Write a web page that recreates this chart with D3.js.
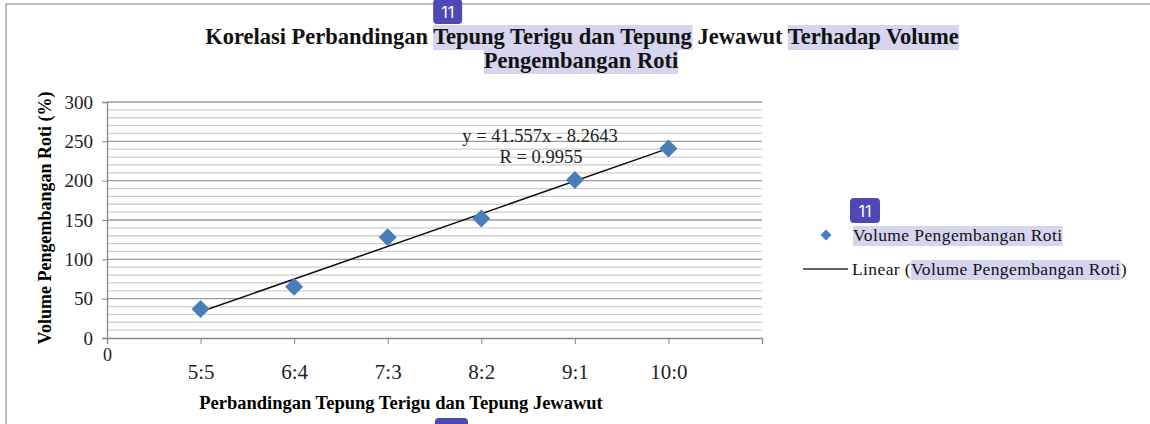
<!DOCTYPE html>
<html>
<head>
<meta charset="utf-8">
<script src="https://cdn.jsdelivr.net/npm/d3@7"></script>
<style>
  body { margin: 0; background: #fff; }
  svg { display: block; font-family: "Liberation Serif", "Times New Roman", serif; }
</style>
</head>
<body>
<div id="plot"><svg width="1150" height="424"></svg></div>
<script>
// data
const ratios = ["5:5", "6:4", "7:3", "8:2", "9:1", "10:0"];
const volume = [37, 65, 128, 152, 201, 241];
const trendSlope = 41.557;
const trendIntercept = -8.2643;
const yTicks = [0, 50, 100, 150, 200, 250, 300];

const width = 1150, height = 424;
const margin = { top: 102, right: 388, bottom: 86, left: 107 };
const hl = "#d6d4ef", badge = "#4c49b4", blue = "#4a7ebb";

const svg = d3.select("div#plot svg");
const x = d3.scaleLinear().domain([0, ratios.length + 1]).range([margin.left, width - margin.right]);
const y = d3.scaleLinear().domain([0, 300]).range([height - margin.bottom, margin.top]);

// page frame + cut text from the page above
svg.append("path").attr("d", "M6,424V4H1150").attr("fill", "none").attr("stroke", "#a8a8a8").attr("stroke-width", 1.5);
svg.append("text").attr("x", 320).attr("y", -4).attr("text-anchor", "end")
  .attr("font-size", 19).attr("fill", "#777").text("Grafik Pengembangan Pengembangan (%)");

// gridlines
const minor = d3.range(0, 301, 10).filter(v => v % 50 !== 0);
svg.append("g").selectAll("line").data(minor).join("line")
  .attr("x1", x(0)).attr("x2", x(7)).attr("y1", d => y(d)).attr("y2", d => y(d))
  .attr("stroke", "#cfcfcf").attr("stroke-width", 1.3);
svg.append("g").selectAll("line").data(yTicks.slice(1)).join("line")
  .attr("x1", x(0)).attr("x2", x(7)).attr("y1", d => y(d)).attr("y2", d => y(d))
  .attr("stroke", "#9a9a9a").attr("stroke-width", 1.3);

// y axis
const yAxis = svg.append("g").attr("transform", `translate(${x(0)},0)`)
  .call(d3.axisLeft(y).tickValues(yTicks).tickSize(5).tickPadding(9));
yAxis.select(".domain").attr("stroke", "#888").attr("stroke-width", 1.3);
yAxis.selectAll(".tick line").attr("stroke", "#888");
yAxis.selectAll(".tick text").attr("font-family", "Liberation Serif").attr("font-size", 19).attr("fill", "#222");

// x axis
const xAxis = svg.append("g").attr("transform", `translate(0,${y(0)})`)
  .call(d3.axisBottom(x).tickValues(d3.range(0, 8)).tickSize(6).tickPadding(20)
    .tickFormat(d => d === 0 ? "0" : (ratios[d - 1] || "")));
xAxis.select(".domain").attr("stroke", "#888").attr("stroke-width", 1.3);
xAxis.selectAll(".tick line").attr("stroke", "#888");
xAxis.selectAll(".tick text").attr("font-family", "Liberation Serif").attr("font-size", 21).attr("fill", "#222");
xAxis.selectAll(".tick").filter(d => d === 0).select("text").attr("y", 10).attr("font-size", 18);

// trendline
const tx = [1, ratios.length];
svg.append("line")
  .attr("x1", x(tx[0])).attr("y1", y(trendSlope * tx[0] + trendIntercept))
  .attr("x2", x(tx[1])).attr("y2", y(trendSlope * tx[1] + trendIntercept))
  .attr("stroke", "#111").attr("stroke-width", 1.5);

// points
svg.append("g").selectAll("path").data(volume).join("path")
  .attr("transform", (d, i) => `translate(${x(i + 1)},${y(d)})`)
  .attr("d", "M0,-9L9,0L0,9L-9,0Z").attr("fill", blue);

// equation
svg.append("text").attr("x", 540).attr("y", 142).attr("text-anchor", "middle").attr("font-size", 18.5)
  .attr("fill", "#222").text(`y = ${trendSlope}x - ${Math.abs(trendIntercept)}`);
svg.append("text").attr("x", 541).attr("y", 163).attr("text-anchor", "middle").attr("font-size", 18.5)
  .attr("fill", "#222").text("R = 0.9955");

// helper: text made of pieces, some highlighted
function hlText(g, xPos, yPos, parts, size, anchor, weight, spacing) {
  const bgs = g.append("g");
  const t = g.append("text").attr("x", xPos).attr("y", yPos).attr("font-size", size)
    .attr("text-anchor", anchor).attr("font-weight", weight).attr("fill", "#111")
    .attr("letter-spacing", spacing || 0);
  const spans = parts.map(p => ({ p, el: t.append("tspan").text(p[0]).node() }));
  const boxes = [];
  spans.forEach(s => {
    if (s.p[1]) {
      const b = s.el.getBBox();
      bgs.append("rect").attr("x", b.x).attr("y", b.y + 1).attr("width", b.width).attr("height", b.height)
        .attr("fill", hl);
      boxes.push({ x: b.x, y: b.y + 1 });
    }
  });
  return boxes;
}
function drawBadge(bx, by, w) {
  svg.append("rect").attr("x", bx).attr("y", by).attr("width", w).attr("height", 25).attr("rx", 4).attr("fill", badge);
  svg.append("text").attr("x", bx + w / 2).attr("y", by + 19).attr("text-anchor", "middle")
    .attr("font-family", "Inter, 'DejaVu Sans', sans-serif").attr("font-size", 16).attr("fill", "#fff").text("11");
}

// title
const titleG = svg.append("g");
const tb = hlText(titleG, 582, 44, [
  ["Korelasi Perbandingan ", false],
  ["Tepung Terigu dan Tepung", true],
  [" Jewawut ", false],
  ["Terhadap Volume", true]
], 22.5, "middle", "bold");
hlText(titleG, 581, 68, [["Pengembangan Roti", true]], 22.5, "middle", "bold");
drawBadge(tb[0].x, -1, 29);

// axis titles
svg.append("text").attr("transform", `translate(51,${(y(0) + y(300)) / 2 - 2}) rotate(-90)`)
  .attr("text-anchor", "middle").attr("font-size", 18).attr("font-weight", "bold")
  .text("Volume Pengembangan Roti (%)");
svg.append("text").attr("x", 401).attr("y", 409).attr("text-anchor", "middle")
  .attr("font-size", 18.5).attr("font-weight", "bold")
  .text("Perbandingan Tepung Terigu dan Tepung Jewawut");
drawBadge(435, 418, 33);

// legend
const leg = svg.append("g");
leg.append("path").attr("transform", "translate(826,235)").attr("d", "M0,-5.5L5.5,0L0,5.5L-5.5,0Z").attr("fill", blue);
const lb = hlText(leg, 853, 241, [["Volume Pengembangan Roti", true]], 17.5, "start", "normal", 0.4);
leg.append("line").attr("x1", 803).attr("x2", 848).attr("y1", 269).attr("y2", 269).attr("stroke", "#333").attr("stroke-width", 1.5);
hlText(leg, 852, 275, [["Linear (", false], ["Volume Pengembangan Roti", true], [")", false]], 17.5, "start", "normal", 0.4);
drawBadge(lb[0].x - 3, 198, 30);
</script>
</body>
</html>
